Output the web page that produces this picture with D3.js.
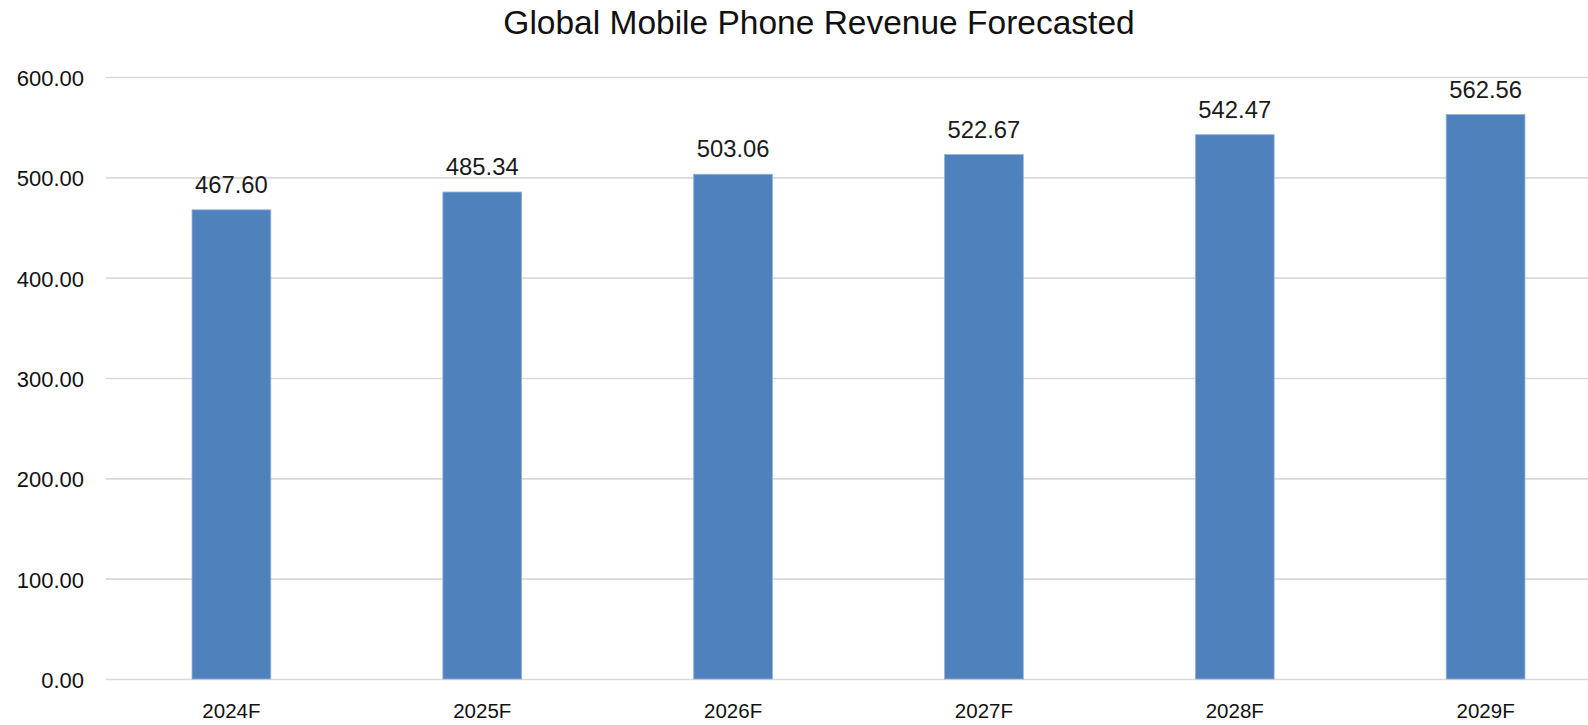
<!DOCTYPE html>
<html>
<head>
<meta charset="utf-8">
<script src="https://cdn.jsdelivr.net/npm/d3@7"></script>
<style>
  html, body { margin: 0; padding: 0; background: #fff; overflow: hidden; }
  svg { display: block; }
</style>
</head>
<body>
<svg id="chart" width="1588" height="725"></svg>
<script>
// Forecast revenue per year
const years = ["2024F", "2025F", "2026F", "2027F", "2028F", "2029F"];
const revenue = [467.60, 485.34, 503.06, 522.67, 542.47, 562.56];
const yTicks = [0, 100, 200, 300, 400, 500, 600];
const chartTitle = "Global Mobile Phone Revenue Forecasted";

const svg = d3.select("#chart");
const plot = { left: 106, right: 1611, top: 77, bottom: 679 };

const x = d3.scaleBand()
  .domain(years)
  .range([plot.left, plot.right])
  .paddingInner(0.686)
  .paddingOuter(0.343);

const y = d3.scaleLinear().domain([0, 600]).range([plot.bottom, plot.top]);

// Horizontal gridlines with value labels
const yAxis = svg.append("g")
  .attr("transform", `translate(${plot.left},0)`)
  .call(d3.axisLeft(y)
    .tickValues(yTicks)
    .tickFormat(d3.format(".2f"))
    .tickSize(-(plot.right - plot.left))
    .tickPadding(22));
yAxis.select(".domain").remove();
yAxis.selectAll(".tick line")
  .attr("stroke", "#d9d9d9")
  .attr("stroke-width", 1.6);
yAxis.selectAll(".tick text")
  .attr("font-family", "'Liberation Sans', Arial, sans-serif")
  .attr("font-size", 22)
  .attr("fill", "#111")
  .attr("dy", "0.38em");

// Bars
svg.append("g")
  .selectAll("rect")
  .data(revenue)
  .join("rect")
  .attr("x", (d, i) => x(years[i]))
  .attr("y", d => y(d))
  .attr("width", x.bandwidth())
  .attr("height", d => y(0) - y(d))
  .attr("fill", "#4f81bd")
  .attr("stroke", "#93b1d9")
  .attr("stroke-width", 0.8);

// Value labels above bars
svg.append("g")
  .selectAll("text")
  .data(revenue)
  .join("text")
  .attr("x", (d, i) => x(years[i]) + x.bandwidth() / 2)
  .attr("y", d => y(d) - 17)
  .attr("text-anchor", "middle")
  .attr("font-family", "'Liberation Sans', Arial, sans-serif")
  .attr("font-size", 23.8)
  .attr("fill", "#1a1a1a")
  .text(d => d3.format(".2f")(d));

// Category axis
const xAxis = svg.append("g")
  .attr("transform", `translate(0,${plot.bottom})`)
  .call(d3.axisBottom(x).tickSize(0).tickPadding(0));
xAxis.select(".domain").remove();
xAxis.selectAll(".tick text")
  .attr("font-family", "'Liberation Sans', Arial, sans-serif")
  .attr("font-size", 20.5)
  .attr("fill", "#111")
  .attr("dy", null)
  .attr("y", 39);

// Title
svg.append("text")
  .attr("x", 819)
  .attr("y", 33.5)
  .attr("text-anchor", "middle")
  .attr("font-family", "'Liberation Sans', Arial, sans-serif")
  .attr("font-size", 33.5)
  .attr("fill", "#111")
  .text(chartTitle);
</script>
</body>
</html>
